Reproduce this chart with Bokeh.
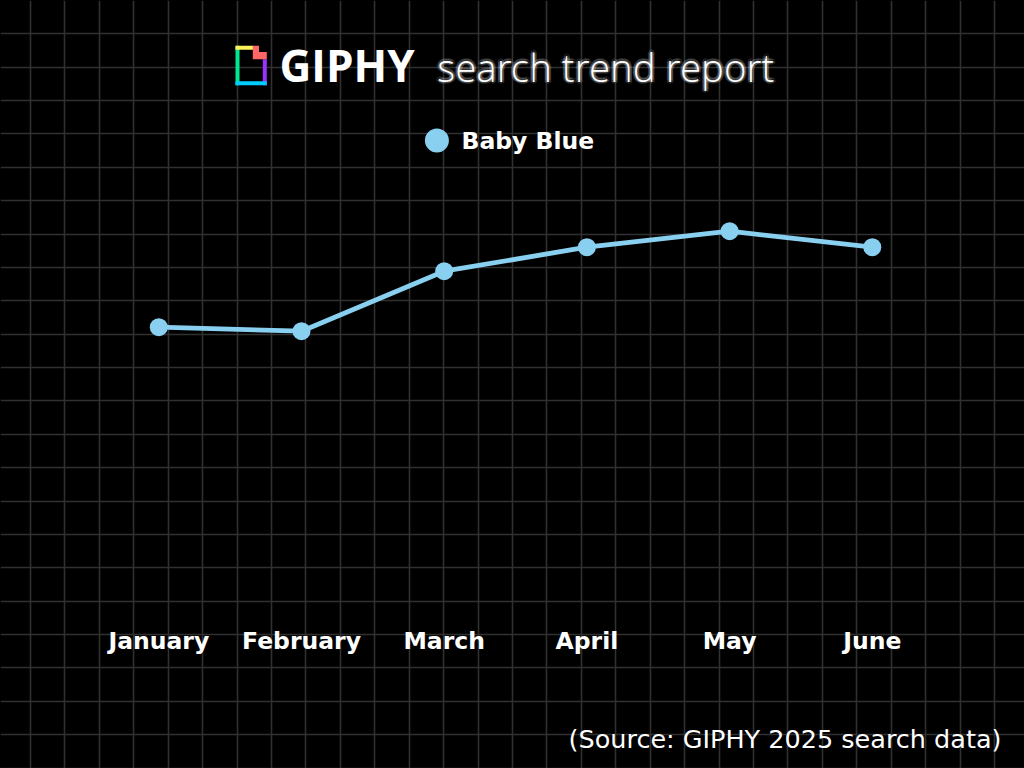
from bokeh.plotting import figure
from bokeh.models import Range1d, FixedTicker
from bokeh.core.properties import value
from bokeh.embed import file_html
from bokeh.resources import INLINE

# ---- data ----
months = ["January", "February", "March", "April", "May", "June"]
baby_blue = [60, 59, 74, 80, 84, 80]
series_name = "Baby Blue"
title_brand = "GIPHY"
title_rest = "search trend report"
source_note = "(Source: GIPHY 2025 search data)"

# ---- styling / layout ----
W, H = 1024, 768
BG = "#000000"
GRID = "#303030"
LINE = "#89CFF0"
x0_px, dx_px = 158.3, 142.7          # pixel of first month, pixels per month
y_px_per_unit, y_px_zero = 4.0, 566.7  # value -> pixel mapping

xs = list(range(len(months)))

p = figure(width=W, height=H, output_backend="svg", toolbar_location=None,
           x_range=Range1d(-x0_px / dx_px, (W - x0_px) / dx_px),
           y_range=Range1d((y_px_zero - H) / y_px_per_unit, y_px_zero / y_px_per_unit),
           min_border=0, background_fill_color=BG, border_fill_color=BG,
           outline_line_color=None)
p.extra_x_ranges = {"px": Range1d(0, W)}
p.extra_y_ranges = {"px": Range1d(H, 0)}
p.xaxis.visible = False
p.yaxis.visible = False

# background grid (decorative, pixel-spaced)
vx = [((30 + 34.43 * k) - x0_px) / dx_px for k in range(-1, 31)]
hy = [(y_px_zero - 33.37 * k) / y_px_per_unit for k in range(0, 24)]
p.xgrid.ticker = FixedTicker(ticks=vx)
p.ygrid.ticker = FixedTicker(ticks=hy)
for g in (p.xgrid, p.ygrid):
    g.grid_line_color = GRID
    g.grid_line_width = 1.6

# series
p.line(xs, baby_blue, line_color=LINE, line_width=4.8, line_join="round")
p.scatter(xs, baby_blue, size=18, fill_color=LINE, line_color=None)

# month labels
p.text(xs, [640.5] * len(xs), text=months, y_range_name="px",
       text_font=value("DejaVu Sans"), text_font_style="bold",
       text_font_size="23.5px", text_color="white",
       text_align="center", text_baseline="middle")

# legend
p.scatter([436.4], [140], size=24, fill_color=LINE, line_color=None,
          x_range_name="px", y_range_name="px")
p.text([461], [140], text=[series_name], x_range_name="px", y_range_name="px",
       text_font=value("DejaVu Sans"), text_font_style="bold",
       text_font_size="23.5px", text_color="white",
       text_align="left", text_baseline="middle")

# title logo
p.quad(left=[235], right=[239], top=[45.3], bottom=[84.7], fill_color="#00E88F",
       line_color=None, x_range_name="px", y_range_name="px")
p.quad(left=[235], right=[253], top=[45.3], bottom=[49.3], fill_color="#FFF35C",
       line_color=None, x_range_name="px", y_range_name="px")
p.quad(left=[262.3], right=[266.3], top=[58.7], bottom=[84.7], fill_color="#9933FF",
       line_color=None, x_range_name="px", y_range_name="px")
p.quad(left=[235], right=[266.3], top=[80.7], bottom=[84.7], fill_color="#00CCFF",
       line_color=None, x_range_name="px", y_range_name="px")
p.patch([252.3, 258.5, 258.5, 266.3, 266.3, 252.3],
        [45.3, 45.3, 51.5, 51.5, 58.7, 58.7], fill_color="#FF6666",
        line_color=None, x_range_name="px", y_range_name="px")

# title text
p.text([279], [64.5], text=[title_brand], x_range_name="px", y_range_name="px",
       text_font=value("Open Sans"), text_font_style="bold",
       text_font_size="44px", text_color="white",
       text_align="left", text_baseline="middle")
glow = [(-2.5, 0), (2.5, 0), (0, -2.5), (0, 2.5), (-1.8, -1.8), (1.8, 1.8), (-1.8, 1.8), (1.8, -1.8)]
for ox, oy in glow:
    p.text([436.7 + ox], [66 + oy], text=[title_rest], x_range_name="px", y_range_name="px",
           text_font=value("Open Sans Light"), text_font_size="38.5px",
           text_color="white", text_alpha=0.13,
           text_align="left", text_baseline="middle")
p.text([436.7], [66], text=[title_rest], x_range_name="px", y_range_name="px",
       text_font=value("Open Sans Light"), text_font_size="38.5px",
       text_color="white", text_align="left", text_baseline="middle")

# source note
p.text([1001], [738.5], text=[source_note], x_range_name="px", y_range_name="px",
       text_font=value("DejaVu Sans"), text_font_size="25.5px",
       text_color="white", text_align="right", text_baseline="middle")

html = file_html(p, INLINE, title="GIPHY search trend report")
html = html.replace("</head>",
                    "<style>html,body{margin:0;padding:0;background:#000;overflow:hidden;}</style></head>", 1)
open("out.html", "w").write(html)
